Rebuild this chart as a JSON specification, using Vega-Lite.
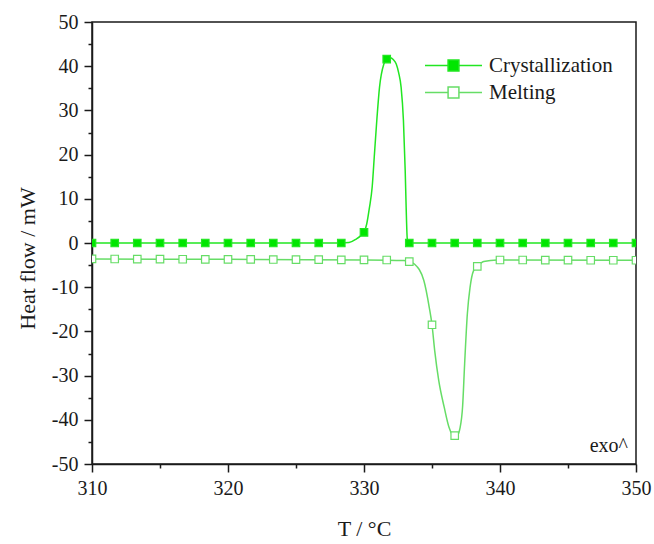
{
  "$schema": "https://vega.github.io/schema/vega-lite/v6.json",
  "width": 544,
  "height": 442,
  "autosize": {"type": "none"},
  "padding": {"left": 92, "top": 22, "right": 18, "bottom": 80},
  "config": {
    "font": "Liberation Serif",
    "view": {"stroke": "#1a1a1a", "strokeWidth": 1.5},
    "axis": {
      "grid": false,
      "domainColor": "#1a1a1a",
      "domainWidth": 1.5,
      "tickColor": "#1a1a1a",
      "tickWidth": 1.5,
      "tickSize": 8,
      "labelFont": "Liberation Serif",
      "labelFontSize": 20,
      "labelColor": "#1a1a1a",
      "titleFont": "Liberation Serif",
      "titleFontSize": 22,
      "titleFontWeight": "normal",
      "titleColor": "#1a1a1a",
      "labelOverlap": false,
      "labelFlush": false
    }
  },
  "resolve": {"axis": {"x": "independent", "y": "independent"}},
  "layer": [
    {
      "data": {
        "values": [
          {"T": 310, "H": 0, "series": "Crystallization"},
          {"T": 328.3, "H": 0, "series": "Crystallization"},
          {"T": 328.9, "H": 0.1, "series": "Crystallization"},
          {"T": 329.43, "H": 0.9, "series": "Crystallization"},
          {"T": 329.75, "H": 1.6, "series": "Crystallization"},
          {"T": 330.0, "H": 2.4, "series": "Crystallization"},
          {"T": 330.2, "H": 4.3, "series": "Crystallization"},
          {"T": 330.4, "H": 8, "series": "Crystallization"},
          {"T": 330.6, "H": 12.6, "series": "Crystallization"},
          {"T": 330.77, "H": 20.2, "series": "Crystallization"},
          {"T": 330.94, "H": 27.7, "series": "Crystallization"},
          {"T": 331.14, "H": 35.2, "series": "Crystallization"},
          {"T": 331.46, "H": 40.5, "series": "Crystallization"},
          {"T": 331.67, "H": 41.6, "series": "Crystallization"},
          {"T": 331.95, "H": 41.9, "series": "Crystallization"},
          {"T": 332.15, "H": 41.5, "series": "Crystallization"},
          {"T": 332.37, "H": 40.5, "series": "Crystallization"},
          {"T": 332.55, "H": 38.5, "series": "Crystallization"},
          {"T": 332.73, "H": 35.2, "series": "Crystallization"},
          {"T": 332.9, "H": 27.7, "series": "Crystallization"},
          {"T": 333.03, "H": 16.3, "series": "Crystallization"},
          {"T": 333.1, "H": 8, "series": "Crystallization"},
          {"T": 333.18, "H": 1, "series": "Crystallization"},
          {"T": 333.25, "H": 0.1, "series": "Crystallization"},
          {"T": 333.4, "H": 0, "series": "Crystallization"},
          {"T": 350, "H": 0, "series": "Crystallization"},
          {"T": 310, "H": -3.6, "series": "Melting"},
          {"T": 320, "H": -3.7, "series": "Melting"},
          {"T": 330, "H": -3.82, "series": "Melting"},
          {"T": 332.9, "H": -3.95, "series": "Melting"},
          {"T": 333.33, "H": -4.2, "series": "Melting"},
          {"T": 333.7, "H": -4.75, "series": "Melting"},
          {"T": 334.4, "H": -8.5, "series": "Melting"},
          {"T": 334.8, "H": -14.6, "series": "Melting"},
          {"T": 335.0, "H": -18.5, "series": "Melting"},
          {"T": 335.2, "H": -24.4, "series": "Melting"},
          {"T": 335.5, "H": -31.2, "series": "Melting"},
          {"T": 335.9, "H": -37.2, "series": "Melting"},
          {"T": 336.25, "H": -41.7, "series": "Melting"},
          {"T": 336.67, "H": -43.8, "series": "Melting"},
          {"T": 336.9, "H": -43.4, "series": "Melting"},
          {"T": 337.05, "H": -42, "series": "Melting"},
          {"T": 337.25, "H": -37, "series": "Melting"},
          {"T": 337.4, "H": -27.3, "series": "Melting"},
          {"T": 337.6, "H": -16, "series": "Melting"},
          {"T": 337.8, "H": -10, "series": "Melting"},
          {"T": 338.05, "H": -6.3, "series": "Melting"},
          {"T": 338.33, "H": -5.3, "series": "Melting"},
          {"T": 338.8, "H": -4.2, "series": "Melting"},
          {"T": 339.8, "H": -3.85, "series": "Melting"},
          {"T": 350, "H": -3.9, "series": "Melting"}
        ]
      },
      "mark": {"type": "line", "interpolate": "monotone", "strokeWidth": 1.5, "clip": true},
      "encoding": {
        "x": {
          "field": "T",
          "type": "quantitative",
          "scale": {"domain": [310, 350], "nice": false, "zero": false},
          "axis": {
            "orient": "bottom",
            "title": "T / °C",
            "values": [310, 320, 330, 340, 350],
            "labelFont": "Liberation Serif",
            "titleFont": "Liberation Serif",
            "labelPadding": 6,
            "titlePadding": 20
          }
        },
        "y": {
          "field": "H",
          "type": "quantitative",
          "scale": {"domain": [-50, 50], "nice": false, "zero": false},
          "axis": {
            "orient": "left",
            "title": "Heat flow / mW",
            "values": [-50, -40, -30, -20, -10, 0, 10, 20, 30, 40, 50],
            "labelExpr": "'' + datum.value",
            "labelFont": "Liberation Serif",
            "titleFont": "Liberation Serif",
            "labelPadding": 6,
            "titlePadding": 12,
            "titleY": 236
          }
        },
        "stroke": {
          "field": "series",
          "type": "nominal",
          "scale": {"domain": ["Crystallization", "Melting"], "range": ["#22e622", "#66dd66"]},
          "legend": {
            "title": null,
            "orient": "none",
            "legendX": 332,
            "legendY": 30,
            "symbolType": "M-1,0L-0.19,0M0.19,0L1,0M-0.19,-0.19L0.19,-0.19L0.19,0.19L-0.19,0.19Z",
            "symbolSize": 3249,
            "symbolStrokeWidth": 1.5,
            "symbolOpacity": 1,
            "clipHeight": 27,
            "rowPadding": 0,
            "padding": 0,
            "labelFont": "Liberation Serif",
            "labelFontSize": 21,
            "labelColor": "#1a1a1a",
            "labelOffset": 6
          }
        }
      }
    },
    {
      "data": {
        "values": [
          {"T": 310, "H": 0, "series": "Crystallization"},
          {"T": 311.67, "H": 0, "series": "Crystallization"},
          {"T": 313.33, "H": 0, "series": "Crystallization"},
          {"T": 315, "H": 0, "series": "Crystallization"},
          {"T": 316.67, "H": 0, "series": "Crystallization"},
          {"T": 318.33, "H": 0, "series": "Crystallization"},
          {"T": 320, "H": 0, "series": "Crystallization"},
          {"T": 321.67, "H": 0, "series": "Crystallization"},
          {"T": 323.33, "H": 0, "series": "Crystallization"},
          {"T": 325, "H": 0, "series": "Crystallization"},
          {"T": 326.67, "H": 0, "series": "Crystallization"},
          {"T": 328.33, "H": 0, "series": "Crystallization"},
          {"T": 330, "H": 2.4, "series": "Crystallization"},
          {"T": 331.67, "H": 41.6, "series": "Crystallization"},
          {"T": 333.33, "H": 0, "series": "Crystallization"},
          {"T": 335, "H": 0, "series": "Crystallization"},
          {"T": 336.67, "H": 0, "series": "Crystallization"},
          {"T": 338.33, "H": 0, "series": "Crystallization"},
          {"T": 340, "H": 0, "series": "Crystallization"},
          {"T": 341.67, "H": 0, "series": "Crystallization"},
          {"T": 343.33, "H": 0, "series": "Crystallization"},
          {"T": 345, "H": 0, "series": "Crystallization"},
          {"T": 346.67, "H": 0, "series": "Crystallization"},
          {"T": 348.33, "H": 0, "series": "Crystallization"},
          {"T": 350, "H": 0, "series": "Crystallization"},
          {"T": 310, "H": -3.6, "series": "Melting"},
          {"T": 311.67, "H": -3.62, "series": "Melting"},
          {"T": 313.33, "H": -3.64, "series": "Melting"},
          {"T": 315, "H": -3.66, "series": "Melting"},
          {"T": 316.67, "H": -3.68, "series": "Melting"},
          {"T": 318.33, "H": -3.7, "series": "Melting"},
          {"T": 320, "H": -3.7, "series": "Melting"},
          {"T": 321.67, "H": -3.72, "series": "Melting"},
          {"T": 323.33, "H": -3.74, "series": "Melting"},
          {"T": 325, "H": -3.75, "series": "Melting"},
          {"T": 326.67, "H": -3.77, "series": "Melting"},
          {"T": 328.33, "H": -3.8, "series": "Melting"},
          {"T": 330, "H": -3.82, "series": "Melting"},
          {"T": 331.67, "H": -3.85, "series": "Melting"},
          {"T": 333.33, "H": -4.2, "series": "Melting"},
          {"T": 335, "H": -18.5, "series": "Melting"},
          {"T": 336.67, "H": -43.6, "series": "Melting"},
          {"T": 338.33, "H": -5.3, "series": "Melting"},
          {"T": 340, "H": -3.85, "series": "Melting"},
          {"T": 341.67, "H": -3.85, "series": "Melting"},
          {"T": 343.33, "H": -3.87, "series": "Melting"},
          {"T": 345, "H": -3.88, "series": "Melting"},
          {"T": 346.67, "H": -3.9, "series": "Melting"},
          {"T": 348.33, "H": -3.9, "series": "Melting"},
          {"T": 350, "H": -3.9, "series": "Melting"}
        ]
      },
      "mark": {"type": "point", "shape": "square", "filled": true, "size": 56, "strokeWidth": 1.2, "opacity": 1, "clip": true},
      "encoding": {
        "x": {"field": "T", "type": "quantitative", "axis": null},
        "y": {"field": "H", "type": "quantitative", "axis": null},
        "fill": {
          "field": "series",
          "type": "nominal",
          "scale": {"domain": ["Crystallization", "Melting"], "range": ["#00e600", "#ffffff"]},
          "legend": {
            "title": null,
            "orient": "none",
            "legendX": 332,
            "legendY": 30,
            "symbolType": "M-1,0L-0.19,0M0.19,0L1,0M-0.19,-0.19L0.19,-0.19L0.19,0.19L-0.19,0.19Z",
            "symbolSize": 3249,
            "symbolStrokeWidth": 1.5,
            "symbolOpacity": 1,
            "clipHeight": 27,
            "rowPadding": 0,
            "padding": 0,
            "labelFont": "Liberation Serif",
            "labelFontSize": 21,
            "labelColor": "#1a1a1a",
            "labelOffset": 6
          }
        },
        "stroke": {
          "field": "series",
          "type": "nominal",
          "legend": {
            "title": null,
            "orient": "none",
            "legendX": 332,
            "legendY": 30,
            "symbolType": "M-1,0L-0.19,0M0.19,0L1,0M-0.19,-0.19L0.19,-0.19L0.19,0.19L-0.19,0.19Z",
            "symbolSize": 3249,
            "symbolStrokeWidth": 1.5,
            "symbolOpacity": 1,
            "clipHeight": 27,
            "rowPadding": 0,
            "padding": 0,
            "labelFont": "Liberation Serif",
            "labelFontSize": 21,
            "labelColor": "#1a1a1a",
            "labelOffset": 6
          }
        }
      }
    },
    {
      "data": {"values": [{"note": "exo^"}]},
      "mark": {"type": "text", "align": "right", "baseline": "alphabetic", "dx": -8, "dy": -12, "fontSize": 20, "font": "Liberation Serif", "color": "#1a1a1a"},
      "encoding": {
        "x": {
          "datum": 350,
          "type": "quantitative",
          "axis": {"orient": "bottom", "values": [315, 325, 335, 345], "labels": false, "title": null, "domain": false, "tickSize": 4}
        },
        "y": {
          "datum": -50,
          "type": "quantitative",
          "axis": {"orient": "left", "values": [-45, -35, -25, -15, -5, 5, 15, 25, 35, 45], "labels": false, "title": null, "domain": false, "tickSize": 4}
        },
        "text": {"field": "note", "type": "nominal"}
      }
    }
  ]
}
